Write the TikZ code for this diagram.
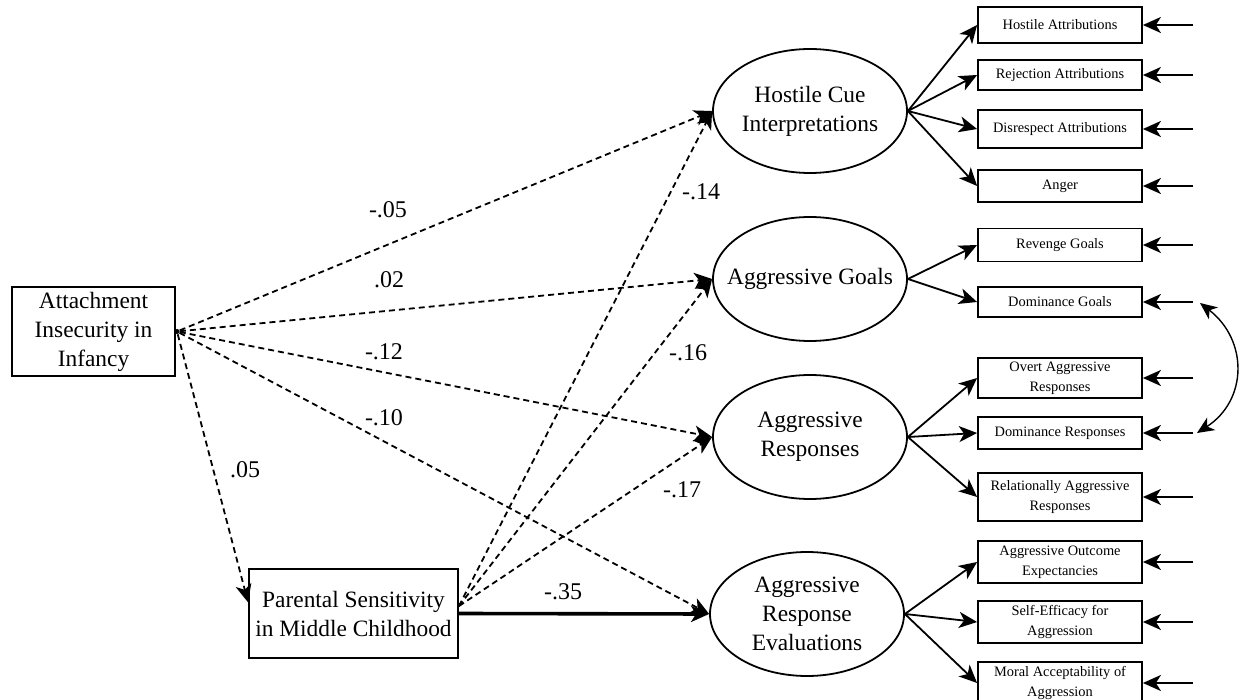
\documentclass[tikz,border=0pt]{standalone}
\usepackage{fontspec}
\setmainfont{Liberation Serif}
\usetikzlibrary{shapes.geometric,arrows.meta}
\begin{document}
\begin{tikzpicture}[x=0.5pt,y=-0.5pt,
  bigfont/.style={font=\fontsize{11.7}{14.5}\selectfont},
  latent/.style={ellipse,draw,line width=0.9pt,minimum width=97pt,minimum height=62pt,inner sep=0pt,align=center,bigfont},
  obsbox/.style={rectangle,draw,line width=0.9pt,minimum width=82pt,inner sep=0pt,align=center,font=\fontsize{7.2}{10}\selectfont},
  bigbox/.style={rectangle,draw,line width=0.9pt,inner sep=0pt,align=center,bigfont},
  coef/.style={font=\fontsize{12}{14}\selectfont,inner sep=0pt},
  pathdash/.style={line width=0.9pt,dash pattern=on 3pt off 2pt,-{Stealth[length=9pt,width=8pt,inset=2.5pt]}},
  loadarrow/.style={line width=0.9pt,-{Stealth[length=9pt,width=8pt,inset=2.5pt]}},
  errarrow/.style={line width=0.9pt,-{Stealth[length=9pt,width=8pt,inset=2.5pt]}},
]
\fill[white] (0,0) rectangle (1243,700);
\useasboundingbox (0,0) rectangle (1243,700);

% predictors
\node[bigbox,minimum width=81.5pt,minimum height=44.5pt] (att) at (93.5,331.5) {Attachment\\Insecurity in\\Infancy};
\node[bigbox,minimum width=104.5pt,minimum height=44.5pt] (par) at (353.5,613.5) {Parental Sensitivity\\in Middle Childhood};
\node[fill,circle,inner sep=0pt,minimum size=2.5pt] (src) at (177,331.5) {};

% latent variables
\node[latent] (hci) at (810,111) {Hostile Cue\\Interpretations};
\node[latent,inner xsep=-7.5pt] (ag) at (810,279) {Aggressive Goals};
\node[latent] (ar) at (810,437) {Aggressive\\Responses};
\node[latent] (are) at (807,614) {Aggressive\\Response\\Evaluations};

% indicators
\node[obsbox,minimum height=18pt] (hatt) at (1060,25) {Hostile Attributions};
\node[obsbox,minimum height=15pt] (rej) at (1060,75) {Rejection Attributions};
\node[obsbox,minimum height=19pt] (dis) at (1060,129) {Disrespect Attributions};
\node[obsbox,minimum height=16pt] (ang) at (1060,186) {Anger};
\node[obsbox,minimum height=16.5pt] (rev) at (1060,245) {Revenge Goals};
\node[obsbox,minimum height=15pt] (domg) at (1060,302) {Dominance Goals};
\node[obsbox,minimum height=20pt] (ovt) at (1060,378) {Overt Aggressive\\Responses};
\node[obsbox,minimum height=16pt] (domr) at (1060,433) {Dominance Responses};
\node[obsbox,minimum height=24pt] (rel) at (1060,497) {Relationally Aggressive\\Responses};
\node[obsbox,minimum height=21pt] (aoe) at (1060,562) {Aggressive Outcome\\Expectancies};
\node[obsbox,minimum height=21pt] (sef) at (1060,622) {Self-Efficacy for\\Aggression};
\node[obsbox,minimum height=21pt] (mor) at (1060,683) {Moral Acceptability of\\Aggression};

% structural paths
\draw[pathdash] (src) -- (hci.west);
\draw[pathdash] (src) -- (ag.west);
\draw[pathdash] (src) -- (ar.west);
\draw[pathdash] (src) -- (are.west);
\draw[pathdash] (src) -- (par.174);
\coordinate (psrc) at (par.4);
\draw[pathdash] (psrc) -- (hci.west);
\draw[pathdash] (psrc) -- (ag.west);
\draw[pathdash] (psrc) -- (ar.west);
\draw[line width=1.8pt,-{Stealth[length=9pt,width=8pt,inset=2.5pt]}] (par.east) -- (are.west);

% coefficients
\node[coef] (c1) at (388,210) {-.05};
\node[coef] (c2) at (389,280) {.02};
\node[coef] (c3) at (384,352) {-.12};
\node[coef] (c4) at (384,418) {-.10};
\node[coef] (c5) at (245,470) {.05};
\node[coef] (c6) at (701,192) {-.14};
\node[coef] (c7) at (688,353) {-.16};
\node[coef] (c8) at (682,490) {-.17};
\node[coef] (c9) at (563,592) {-.35};

% loadings
\draw[loadarrow] (hci.east) -- (hatt.west);
\draw[loadarrow] (hci.east) -- (rej.west);
\draw[loadarrow] (hci.east) -- (dis.west);
\draw[loadarrow] (hci.east) -- (ang.west);
\draw[loadarrow] (ag.east) -- (rev.west);
\draw[loadarrow] (ag.east) -- (domg.west);
\draw[loadarrow] (ar.east) -- (ovt.west);
\draw[loadarrow] (ar.east) -- (domr.west);
\draw[loadarrow] (ar.east) -- (rel.west);
\draw[loadarrow] (are.east) -- (aoe.west);
\draw[loadarrow] (are.east) -- (sef.west);
\draw[loadarrow] (are.east) -- (mor.west);

% error terms
\foreach \n/\y in {hatt/25,rej/75,dis/129,ang/186,rev/245,domg/302,ovt/378,domr/433,rel/497,aoe/562,sef/622,mor/683}{
  \coordinate (e\n) at (1193,\y);
  \draw[errarrow] (e\n) -- (\n.east);
}

% correlated errors
\coordinate (cv1) at (1200,303);
\coordinate (cv2) at (1197,433);
\draw[line width=0.7pt,{Stealth[length=8.5pt,width=7.5pt,inset=2.5pt]}-{Stealth[length=8.5pt,width=7.5pt,inset=2.5pt]}] (cv1) .. controls (1248,340) and (1248,400) .. (cv2);
\end{tikzpicture}
\end{document}
